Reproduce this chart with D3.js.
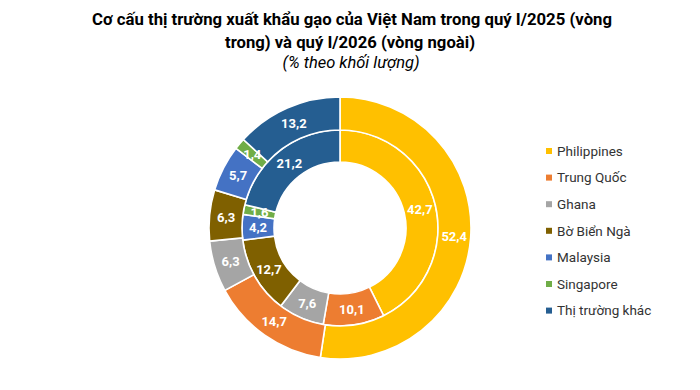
<!doctype html><html><head><meta charset="utf-8">
<style>body{margin:0;background:#fff}svg{display:block;font-family:Roboto,"Noto Sans",sans-serif}</style>
</head><body><script src="https://d3js.org/d3.v7.min.js"></script>
<script>
const markets = ["Philippines", "Trung Quốc", "Ghana", "Bờ Biển Ngà", "Malaysia", "Singapore", "Thị trường khác"];
const q1_2025 = [42.7, 10.1, 7.6, 12.7, 4.2, 1.6, 21.2];   // vòng trong
const q1_2026 = [52.4, 14.7, 6.3, 6.3, 5.7, 1.4, 13.2];    // vòng ngoài
const colors = ["#FFC000", "#ED7D31", "#A5A5A5", "#7F6000", "#4472C4", "#70AD47", "#255E91"];

const width = 700, height = 390;
const cx = 340, cy = 228;

const svg = d3.select("body").append("svg")
  .attr("width", width)
  .attr("height", height);

// title
const title = svg.append("g").attr("text-anchor", "middle").attr("fill", "#000");
title.append("text").attr("x", 352).attr("y", 25)
  .attr("font-size", 17).attr("font-weight", "bold")
  .attr("textLength", 520).attr("lengthAdjust", "spacingAndGlyphs")
  .text("Cơ cấu thị trường xuất khẩu gạo của Việt Nam trong quý I/2025 (vòng");
title.append("text").attr("x", 350).attr("y", 48)
  .attr("font-size", 17).attr("font-weight", "bold")
  .attr("textLength", 250).attr("lengthAdjust", "spacingAndGlyphs")
  .text("trong) và quý I/2026 (vòng ngoài)");
title.append("text").attr("x", 351).attr("y", 68)
  .attr("font-size", 16).attr("font-style", "italic")
  .attr("textLength", 137).attr("lengthAdjust", "spacingAndGlyphs")
  .text("(% theo khối lượng)");

const pie = d3.pie().sort(null).value(d => d);
const color = d3.scaleOrdinal().domain(markets).range(colors);
const fmt = v => d3.format(".1f")(v).replace(".", ",");

const rings = [
  {data: q1_2025, inner: 66, outer: 98},
  {data: q1_2026, inner: 98, outer: 131}
];

const chart = svg.append("g").attr("transform", `translate(${cx},${cy})`);

rings.forEach(ring => {
  const arc = d3.arc().innerRadius(ring.inner).outerRadius(ring.outer);
  const arcs = pie(ring.data);
  const g = chart.append("g");
  g.selectAll("path")
    .data(arcs)
    .enter()
    .append("path")
    .attr("d", arc)
    .attr("fill", (d, i) => color(markets[i]))
    .attr("stroke", "#fff")
    .attr("stroke-width", 1.6);
  g.selectAll("text")
    .data(arcs)
    .enter()
    .append("text")
    .attr("transform", d => `translate(${arc.centroid(d)})`)
    .attr("text-anchor", "middle")
    .attr("dy", "0.36em")
    .attr("font-size", 13)
    .attr("font-weight", "bold")
    .attr("fill", "#fff")
    .text(d => fmt(d.data));
});

// legend
const legend = svg.append("g").attr("transform", "translate(546,151)");
const row = legend.selectAll("g")
  .data(markets)
  .enter()
  .append("g")
  .attr("transform", (d, i) => "translate(0," + i * 26.6 + ")");
row.append("rect")
  .attr("x", 0).attr("y", -3)
  .attr("width", 6).attr("height", 6)
  .attr("fill", d => color(d));
row.append("text")
  .attr("x", 11)
  .attr("dy", "0.36em")
  .attr("font-size", 13.5)
  .attr("fill", "#333")
  .text(d => d);
</script></body></html>
